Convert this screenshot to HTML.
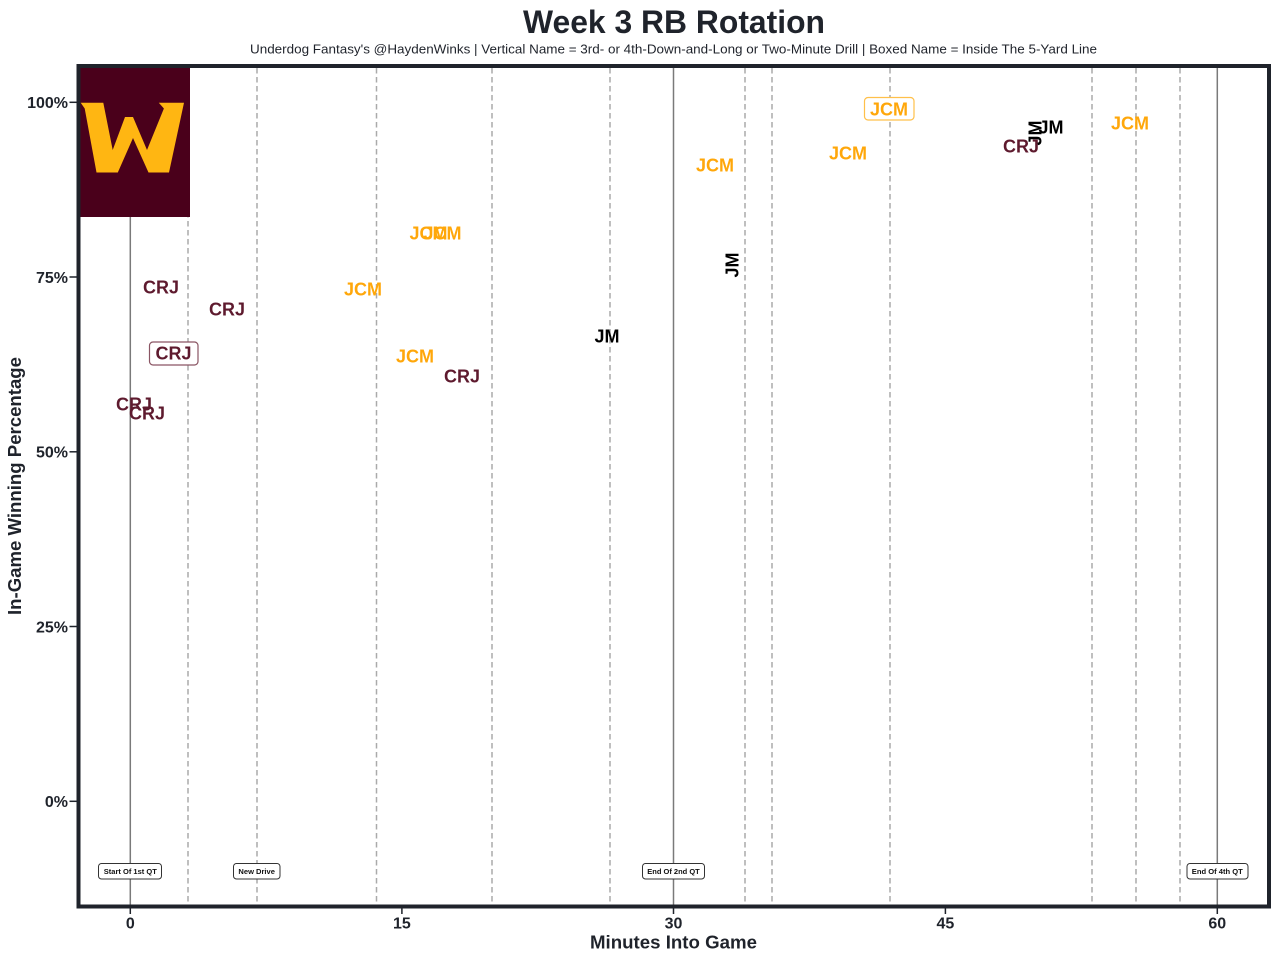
<!DOCTYPE html>
<html>
<head>
<meta charset="utf-8">
<style>
  html,body{margin:0;padding:0;background:#ffffff;}
  svg{display:block;}
  text{font-family:"Liberation Sans", Arial, sans-serif;}
</style>
</head>
<body>
<svg width="1279" height="960" viewBox="0 0 1279 960" xmlns="http://www.w3.org/2000/svg">
  <rect x="0" y="0" width="1279" height="960" fill="#ffffff"/>

  <!-- Title & subtitle -->
  <text x="674" y="33" text-anchor="middle" font-size="32" font-weight="bold" fill="#1f232b" textLength="302" lengthAdjust="spacingAndGlyphs">Week 3 RB Rotation</text>
  <text x="673.5" y="53.5" text-anchor="middle" font-size="13.2" fill="#1f232b" textLength="847" lengthAdjust="spacingAndGlyphs">Underdog Fantasy's @HaydenWinks | Vertical Name = 3rd- or 4th-Down-and-Long or Two-Minute Drill | Boxed Name = Inside The 5-Yard Line</text>

  <!-- dashed vertical lines -->
  <g stroke="#aaaaaa" stroke-width="1.5" stroke-dasharray="5.5,3.5" fill="none">
    <line x1="188" y1="68" x2="188" y2="905"/>
    <line x1="257" y1="68" x2="257" y2="905"/>
    <line x1="376.5" y1="68" x2="376.5" y2="905"/>
    <line x1="492" y1="68" x2="492" y2="905"/>
    <line x1="610" y1="68" x2="610" y2="905"/>
    <line x1="745" y1="68" x2="745" y2="905"/>
    <line x1="772" y1="68" x2="772" y2="905"/>
    <line x1="890" y1="68" x2="890" y2="905"/>
    <line x1="1092" y1="68" x2="1092" y2="905"/>
    <line x1="1136" y1="68" x2="1136" y2="905"/>
    <line x1="1180" y1="68" x2="1180" y2="905"/>
  </g>
  <!-- solid vertical lines -->
  <g stroke="#7a7a7a" stroke-width="1.5">
    <line x1="130.3" y1="68" x2="130.3" y2="905"/>
    <line x1="673.5" y1="68" x2="673.5" y2="905"/>
    <line x1="1217.3" y1="68" x2="1217.3" y2="905"/>
  </g>

  <!-- Logo -->
  <rect x="80" y="68" width="110" height="149" fill="#4a001b"/>
  <polygon fill="#ffb612" points="80.7,102.8 103.3,102.8 112.7,150 125,117 133,117 147,150 163.9,108.5 158.8,102.8 184,102.8 169,172.5 148.5,172.5 133,138 117.8,172.5 96.5,172.5 84.7,108.5"/>

  <!-- CRJ labels -->
  <g font-size="18" font-weight="bold" fill="#5e1a2e" text-anchor="middle">
    <text x="161" y="293.4">CRJ</text>
    <text x="227" y="315.4">CRJ</text>
    <text x="134" y="410.4">CRJ</text>
    <text x="147" y="419.4">CRJ</text>
    <text x="462" y="382.4">CRJ</text>
    <text x="1021" y="152.4">CRJ</text>
  </g>
  <!-- boxed CRJ -->
  <rect x="149.5" y="342" width="48.5" height="23" rx="3.5" ry="3.5" fill="#ffffff" stroke="#8a5563" stroke-width="1.2"/>
  <text x="173.5" y="359.4" text-anchor="middle" font-size="18" font-weight="bold" fill="#5e1a2e">CRJ</text>

  <!-- JCM labels -->
  <g font-size="18" font-weight="bold" fill="#ffa70a" text-anchor="middle">
    <text x="363" y="295.4">JCM</text>
    <text x="415" y="362.4">JCM</text>
    <text x="428.5" y="239.4">JCM</text>
    <text x="442.5" y="239.4">JCM</text>
    <text x="715" y="171.4">JCM</text>
    <text x="848" y="159.4">JCM</text>
    <text x="1130" y="129.4">JCM</text>
  </g>
  <!-- boxed JCM -->
  <rect x="864.5" y="97.5" width="49.5" height="22.5" rx="3.5" ry="3.5" fill="#ffffff" stroke="#ffc04a" stroke-width="1.2"/>
  <text x="889" y="115.4" text-anchor="middle" font-size="18" font-weight="bold" fill="#ffa70a">JCM</text>

  <!-- JM labels -->
  <g font-size="18" font-weight="bold" fill="#000000" text-anchor="middle">
    <text x="607" y="342.4">JM</text>
    <text x="1051" y="133.4">JM</text>
    <text transform="translate(732,265) rotate(-90)" x="0" y="6.4">JM</text>
    <text transform="translate(1035,133) rotate(-90)" x="0" y="6.4">JM</text>
  </g>

  <!-- annotation boxes -->
  <g font-size="7.5" font-weight="bold" fill="#111" text-anchor="middle">
    <rect x="98.5" y="863.5" width="63" height="15.5" rx="3" fill="#ffffff" stroke="#333" stroke-width="1"/>
    <text x="130.3" y="874" textLength="53" lengthAdjust="spacingAndGlyphs">Start Of 1st QT</text>
    <rect x="233.5" y="863.5" width="46.5" height="15.5" rx="3" fill="#ffffff" stroke="#333" stroke-width="1"/>
    <text x="256.7" y="874" textLength="36.5" lengthAdjust="spacingAndGlyphs">New Drive</text>
    <rect x="642.5" y="863.5" width="62" height="15.5" rx="3" fill="#ffffff" stroke="#333" stroke-width="1"/>
    <text x="673.5" y="874" textLength="52.5" lengthAdjust="spacingAndGlyphs">End Of 2nd QT</text>
    <rect x="1187" y="863.5" width="61" height="15.5" rx="3" fill="#ffffff" stroke="#333" stroke-width="1"/>
    <text x="1217.3" y="874" textLength="51" lengthAdjust="spacingAndGlyphs">End Of 4th QT</text>
  </g>

  <!-- spines -->
  <rect x="78.5" y="66" width="1190.5" height="840.5" fill="none" stroke="#1f232b" stroke-width="4"/>

  <!-- y ticks -->
  <g stroke="#1f232b" stroke-width="1.5">
    <line x1="69.5" y1="102.3" x2="76.5" y2="102.3"/>
    <line x1="69.5" y1="277" x2="76.5" y2="277"/>
    <line x1="69.5" y1="451.8" x2="76.5" y2="451.8"/>
    <line x1="69.5" y1="626.5" x2="76.5" y2="626.5"/>
    <line x1="69.5" y1="801.3" x2="76.5" y2="801.3"/>
    <line x1="130.3" y1="908" x2="130.3" y2="914"/>
    <line x1="401.9" y1="908" x2="401.9" y2="914"/>
    <line x1="673.5" y1="908" x2="673.5" y2="914"/>
    <line x1="945.4" y1="908" x2="945.4" y2="914"/>
    <line x1="1217.3" y1="908" x2="1217.3" y2="914"/>
  </g>
  <g font-size="16" font-weight="bold" fill="#1f232b" text-anchor="end">
    <text x="68" y="108.2">100%</text>
    <text x="68" y="282.9">75%</text>
    <text x="68" y="457.7">50%</text>
    <text x="68" y="632.4">25%</text>
    <text x="68" y="807.2">0%</text>
  </g>
  <g font-size="16" font-weight="bold" fill="#1f232b" text-anchor="middle">
    <text x="130.3" y="928.3">0</text>
    <text x="401.9" y="928.3">15</text>
    <text x="673.5" y="928.3">30</text>
    <text x="945.4" y="928.3">45</text>
    <text x="1217.3" y="928.3">60</text>
  </g>

  <!-- axis labels -->
  <text x="673.5" y="948.5" text-anchor="middle" font-size="18.5" font-weight="bold" fill="#1f232b" textLength="167" lengthAdjust="spacingAndGlyphs">Minutes Into Game</text>
  <text transform="translate(21,486) rotate(-90)" x="0" y="0" text-anchor="middle" font-size="18.5" font-weight="bold" fill="#1f232b" textLength="258" lengthAdjust="spacingAndGlyphs">In-Game Winning Percentage</text>
</svg>
</body>
</html>
